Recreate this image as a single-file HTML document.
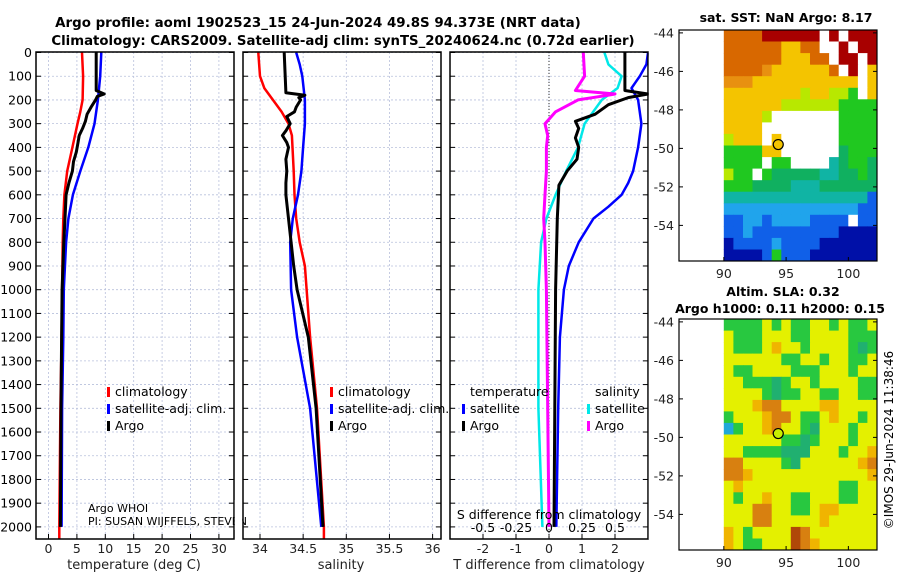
<!DOCTYPE html>
<html><head><meta charset="utf-8"><style>
html,body{margin:0;padding:0;background:#fff;}
svg text{font-family:"DejaVu Sans","Liberation Sans",sans-serif;}
</style></head><body>
<svg id="fig" width="900" height="580" viewBox="0 0 900 580" xmlns="http://www.w3.org/2000/svg">
<text x="318" y="27" font-size="13.4" font-weight="bold" text-anchor="middle">Argo profile: aoml 1902523_15 24-Jun-2024 49.8S 94.373E (NRT data)</text>
<text x="343" y="45" font-size="13.3" font-weight="bold" text-anchor="middle">Climatology: CARS2009. Satellite-adj clim: synTS_20240624.nc (0.72d earlier)</text>
<g id="p1"></g>
<g id="p2"></g>
<g id="p3"></g>
<g id="m1"></g>
<g id="m2"></g>
<text transform="translate(893,440) rotate(-90)" font-size="12" text-anchor="middle">©IMOS 29-Jun-2024 11:38:46</text>
</svg>
<script>
// ---------- data ----------
const depthTicks = [0,100,200,300,400,500,600,700,800,900,1000,1100,1200,1300,1400,1500,1600,1700,1800,1900,2000];
const tTicks = [0,5,10,15,20,25,30];
const sTicks = [34,34.5,35,35.5,36];
const dTTicks = [-2,-1,0,1,2];
const dSTicks = [-0.5,-0.25,0,0.25,0.5];
const dSTickLabels = ["-0.5","-0.25","0","0.25","0.5"];

const tClimDepth = [0,100,200,250,300,400,500,600,700,800,1000,1200,1500,2000,2050];
const tClim = [5.9,6.1,6.0,5.6,5.1,4.2,3.3,2.8,2.6,2.5,2.4,2.3,2.1,1.9,1.9];
const tSatDepth = [0,100,200,300,400,500,600,700,800,1000,1200,1500,2000];
const tSat = [9.3,9.1,8.7,8.1,7.0,5.6,4.3,3.5,3.1,2.7,2.6,2.4,2.3];
const tArgoDepth = [0,160,175,185,200,230,260,290,320,350,380,420,460,500,550,600,700,800,1000,1200,1500,2000];
const tArgo = [8.4,8.4,9.8,8.6,8.3,7.5,6.8,6.5,6.0,5.4,5.2,4.9,4.4,4.2,3.6,3.1,2.9,2.7,2.4,2.3,2.2,2.1];

const sClimDepth = [0,100,150,200,250,300,350,500,600,700,800,900,1200,1500,2000,2050];
const sClim = [33.98,34.00,34.05,34.15,34.25,34.33,34.37,34.39,34.40,34.42,34.46,34.52,34.58,34.66,34.74,34.74];
const sSatDepth = [0,50,100,200,300,400,500,600,700,800,1000,1200,1500,2000];
const sSat = [34.42,34.46,34.49,34.52,34.52,34.50,34.48,34.44,34.38,34.35,34.36,34.43,34.58,34.71];
const sArgoDepth = [0,80,170,180,190,200,230,250,270,300,330,350,380,400,450,500,550,600,700,800,900,1000,1200,1500,2000];
const sArgo = [34.28,34.29,34.30,34.52,34.45,34.47,34.42,34.40,34.31,34.35,34.30,34.26,34.31,34.33,34.30,34.31,34.30,34.30,34.33,34.36,34.39,34.43,34.56,34.65,34.73];

const dTSatDepth = [0,50,100,150,200,300,400,500,550,600,650,700,800,900,1000,1200,1500,2000];
const dTSat = [3.0,2.95,2.75,2.5,2.7,2.8,2.7,2.55,2.4,2.2,1.8,1.35,0.9,0.6,0.45,0.33,0.28,0.22];
const dTArgoDepth = [0,160,175,190,220,260,290,320,360,400,450,500,560,700,1000,2000];
const dTArgo = [2.3,2.3,3.0,2.4,1.8,1.4,0.8,0.9,0.8,0.9,0.85,0.55,0.3,0.25,0.2,0.15];
const dSSatDepth = [0,50,100,150,200,300,400,500,600,700,800,1000,1500,2000];
const dSSat = [0.42,0.45,0.55,0.52,0.40,0.27,0.22,0.13,0.05,-0.02,-0.06,-0.08,-0.08,-0.05];
const dSArgoDepth = [0,100,160,175,180,200,250,300,350,400,500,600,700,800,1000,2000];
const dSArgo = [0.26,0.27,0.20,0.50,0.45,0.22,0.05,-0.03,-0.01,-0.02,-0.02,-0.03,-0.04,-0.03,-0.02,0.0];

const lonTicks = [90,95,100];
const latTicks = [-44,-46,-48,-50,-52,-54];
const sstRows = [
"OOOORRRRRR.R.RRR","OOOOOOYYOO..R.RR","OOOOOOYYYOO.RR.R","OOOOoYYYYYYO.R.Y",
"oooYYYYYYYYYYY.Y","YYYYYYYYLYYLLG.Y","YYYYYYLLLLLLGGGG","YYYYL.......GGGG",
"YYYY........GGGG","LYYY.Y......GGGG","GGGGYY......gGGG","GGGG.GG....TgGGg",
"LGG.GgggggTTggGg","GGGggggTTTgggggg","TTTTTTTTTTTTTTTB","CCCCCCCCCCCCCCBB",
"BBCCBCCCCBBBB.BB","BBCBBBBBBBBBDDDD","DBBBBCBBBBDDDDDD","DDDDBGBBBDDDDDDD"];
const slaRows = [
"GGGGYGYGGYYGYGGY","YGGGYYYGGYYYYGGG","YGGGYoYYGYYYYGgG","YYYYYYGGYYGYYGGY",
"YGGYYYYGGGYYYGYY","YYGGGgGYYGYYYYGG","YYYYGgGGYYGGYYGG","YYYoOOYYYYooYYYY",
"GYYYoOOYGGYoYYGY","CGYYoOYYGgYYYGYY","YYYYYYGGgGYYYGYY","YYGGGGgggYYYGYYo",
"OOYYYYGgYYYYYYoO","OOoYYYYYYYYYYYYo","YoYYYYYYYYYYGGYY","YGYYoYYGGYYYGGYY",
"YYYOOYYGGYooYYYY","YYYOOYYYYYoYYYYY","oYGYYYYROYYYYYYY","oYGGYYYROoYYYYYY"];
const argoLon = 94.37, argoLat = -49.8;

// ---------- helpers ----------
const NS = "http://www.w3.org/2000/svg";
function mk(parent, tag, attrs, txt){ const e=document.createElementNS(NS,tag); for(const k in attrs) e.setAttribute(k,attrs[k]); if(txt!==undefined) e.textContent=txt; parent.appendChild(e); return e; }
const yD = d => 52.5 + d*0.2372;
const PT = 52, PB = 539;
const TICKY = 553, TITLEY = 569;

function panel(g, x0, x1, name){
  depthTicks.forEach(d=>{ const l=mk(g,'line',{x1:x0,x2:x1,y1:yD(d),y2:yD(d),stroke:'#b8c0dc','stroke-width':0.8,'stroke-dasharray':'2,2'});
    
    
    mk(g,'line',{x1:x0,x2:x0+5,y1:yD(d),y2:yD(d),stroke:'#000'}); mk(g,'line',{x1:x1-5,x2:x1,y1:yD(d),y2:yD(d),stroke:'#000'}); });
}
function frame(g,x0,x1,name){ const r=mk(g,'rect',{x:x0,y:PT,width:x1-x0,height:PB-PT,fill:'none',stroke:'#000','stroke-width':1.5});
  
   }
function vgrid(g, xs, name){ xs.forEach(x=>{ const l=mk(g,'line',{x1:x,x2:x,y1:PT,y2:PB,stroke:'#b8c0dc','stroke-width':0.8,'stroke-dasharray':'2,2'});
  
  
  mk(g,'line',{x1:x,x2:x,y1:PB,y2:PB-5,stroke:'#000'}); }); }
function line(g, depths, vals, xf, color, w, name){
  const pts = depths.map((d,i)=>xf(vals[i]).toFixed(1)+','+yD(d).toFixed(1)).join(' ');
  const p=mk(g,'polyline',{points:pts,fill:'none',stroke:color,'stroke-width':w,'stroke-linejoin':'round'});
  
  
}
function legend(g,x,y,color,label,name){
  mk(g,'rect',{x:x,y:y-9,width:3,height:10,fill:color});
  const t=mk(g,'text',{x:x+8,y:y,'font-size':12.5},label);
  
  
}

// ---------- panel 1 ----------
const p1=document.getElementById('p1');
const xT = v => 48.5 + v*5.68;
panel(p1,36,234,'temp'); vgrid(p1,tTicks.map(xT),'temp');
depthTicks.forEach(d=>{ const t=mk(p1,'text',{x:32,y:yD(d)+4.5,'font-size':12.5,'text-anchor':'end'},String(d));
  
   });
tTicks.forEach(v=>{ const t=mk(p1,'text',{x:xT(v),y:TICKY,'font-size':12.5,'text-anchor':'middle',fill:'#222'},String(v));
  
   });
line(p1,tClimDepth,tClim,xT,'#f00',2.5,'temp-climatology-line');
line(p1,tSatDepth,tSat,xT,'#00f',2.5,'temp-satellite-line');
line(p1,tArgoDepth,tArgo,xT,'#000',3,'temp-argo-line');
frame(p1,36,234,'temp');
mk(p1,'text',{x:134,y:TITLEY,'font-size':13,'text-anchor':'middle',fill:'#222'},'temperature (deg C)');
legend(p1,107,396,'#f00','climatology','legend-climatology');
legend(p1,107,413,'#00f','satellite-adj. clim.','legend-satellite-adj');
legend(p1,107,430,'#000','Argo','legend-argo');
mk(p1,'text',{x:88,y:512,'font-size':11},'Argo WHOI');
mk(p1,'text',{x:88,y:525,'font-size':11},'PI: SUSAN WIJFFELS, STEVEN');

// ---------- panel 2 ----------
const p2=document.getElementById('p2');
const xS = v => 260 + (v-34)*86.3;
mk(p2,'rect',{x:234.8,y:500,width:7.5,height:30,fill:'#fff'});
panel(p2,243,441,'sal'); vgrid(p2,sTicks.map(xS),'sal');
sTicks.forEach(v=>{ const t=mk(p2,'text',{x:xS(v),y:TICKY,'font-size':12.5,'text-anchor':'middle',fill:'#222'},String(v));
  
   });
line(p2,sClimDepth,sClim,xS,'#f00',2.5,'sal-climatology-line');
line(p2,sSatDepth,sSat,xS,'#00f',2.5,'sal-satellite-line');
line(p2,sArgoDepth,sArgo,xS,'#000',3,'sal-argo-line');
frame(p2,243,441,'sal');
mk(p2,'text',{x:341,y:TITLEY,'font-size':13,'text-anchor':'middle',fill:'#222'},'salinity');
legend(p2,330,396,'#f00','climatology','legend-climatology-2');
legend(p2,330,413,'#00f','satellite-adj. clim.','legend-satellite-adj-2');
legend(p2,330,430,'#000','Argo','legend-argo-2');

// ---------- panel 3 ----------
const p3=document.getElementById('p3');
const xDT = v => 549 + v*33;
const xDS = v => 549 + v*132;
panel(p3,450,648,'diff'); vgrid(p3,[-3,-2,-1,0,1,2,3].map(xDT).filter(x=>x>450&&x<648),'diff');
mk(p3,'line',{x1:549,x2:549,y1:PT,y2:PB,stroke:'#333','stroke-width':1,'stroke-dasharray':'1,2'});
dTTicks.forEach(v=>{ const t=mk(p3,'text',{x:xDT(v),y:TICKY,'font-size':12.5,'text-anchor':'middle',fill:'#222'},String(v));
  
   });
line(p3,dTSatDepth,dTSat,xDT,'#00f',2.5,'dt-satellite-line');
line(p3,dSSatDepth,dSSat,xDS,'#00e8e8',2.5,'ds-satellite-line');
line(p3,dTArgoDepth,dTArgo,xDT,'#000',3,'dt-argo-line');
line(p3,dSArgoDepth,dSArgo,xDS,'#f0f',3,'ds-argo-line');
frame(p3,450,648,'diff');
mk(p3,'rect',{x:648.8,y:52,width:25,height:487,fill:'#fff'});
dSTicks.forEach((v,i)=>{ const t=mk(p3,'text',{x:xDS(v),y:532,'font-size':12.5,'text-anchor':'middle'},dSTickLabels[i]);
  
   });
mk(p3,'text',{x:549,y:519,'font-size':12.5,'text-anchor':'middle'},'S difference from climatology');
mk(p3,'text',{x:549,y:TITLEY,'font-size':13,'text-anchor':'middle',fill:'#222'},'T difference from climatology');
mk(p3,'text',{x:470,y:396,'font-size':12.5},'temperature');
legend(p3,462,413,'#00f','satellite','legend-dt-satellite');
legend(p3,462,430,'#000','Argo','legend-dt-argo');
mk(p3,'text',{x:595,y:396,'font-size':12.5},'salinity');
legend(p3,587,413,'#00e8e8','satellite','legend-ds-satellite');
legend(p3,587,430,'#f0f','Argo','legend-ds-argo');

// ---------- maps ----------
const sstCol = {R:'#a80000',O:'#d86800',o:'#e89010',Y:'#f4c400',L:'#b8e800',G:'#20c820',g:'#10b060',T:'#10b4a4',C:'#20a4ec',B:'#1060e8',D:'#0010a8','.':'#ffffff'};
const slaCol = {Y:'#e4f000',o:'#f0b400',O:'#d88010',R:'#b04808',G:'#28c840',g:'#20b070',C:'#20a8d8'};
function map(g, top, rows, cols, name){
  const x0=679, x1=877, bot=top+231, lon0=86.4, lon1=102.3, latTop=-43.85, latBot=-55.85;
  const xL = lon => x0 + (lon-lon0)/(lon1-lon0)*(x1-x0);
  const yL = lat => top + (latTop-lat)/(latTop-latBot)*(bot-top);
  const cw=(xL(102.3)-xL(90))/16, ch=(bot-top)/20;
  rows.forEach((r,ri)=>{ for(let ci=0;ci<16;ci++){ const c=mk(g,'rect',{x:(xL(90)+ci*cw).toFixed(1),y:(top+ri*ch).toFixed(1),width:(cw+0.4).toFixed(1),height:(ch+0.4).toFixed(1),fill:cols[r[ci]]});
    
     }});
  const f=mk(g,'rect',{x:x0,y:top,width:x1-x0,height:bot-top,fill:'none',stroke:'#000','stroke-width':1.2});
  
  
  lonTicks.forEach(v=>{ mk(g,'line',{x1:xL(v),x2:xL(v),y1:bot,y2:bot-4,stroke:'#000'});
    const t=mk(g,'text',{x:xL(v),y:bot+17,'font-size':12.5,'text-anchor':'middle',fill:'#222'},String(v));
    
     });
  latTicks.forEach(v=>{ mk(g,'line',{x1:x1,x2:x1-4,y1:yL(v),y2:yL(v),stroke:'#000'}); mk(g,'line',{x1:x0,x2:x0+4,y1:yL(v),y2:yL(v),stroke:'#000'});
    const t=mk(g,'text',{x:x0-5,y:yL(v)+4.5,'font-size':12.5,'text-anchor':'end',fill:'#222'},String(v));
    
     });
  return {xL,yL};
}
const m1=document.getElementById('m1');
const a=map(m1,30,sstRows,sstCol,'sst-map');
const d1=mk(m1,'circle',{cx:a.xL(argoLon),cy:a.yL(argoLat),r:5,fill:'#f4c400',stroke:'#000','stroke-width':1.2});


mk(m1,'text',{x:786,y:22,'font-size':12.5,'font-weight':'bold','text-anchor':'middle'},'sat. SST: NaN Argo: 8.17');
const m2=document.getElementById('m2');
const b=map(m2,319,slaRows,slaCol,'sla-map');
const d2=mk(m2,'circle',{cx:b.xL(argoLon),cy:b.yL(argoLat),r:5,fill:'#c8f000',stroke:'#000','stroke-width':1.2});


mk(m2,'text',{x:783,y:296,'font-size':12.5,'font-weight':'bold','text-anchor':'middle'},'Altim. SLA: 0.32');
mk(m2,'text',{x:780,y:313,'font-size':12.5,'font-weight':'bold','text-anchor':'middle'},'Argo h1000: 0.11 h2000: 0.15');
</script>
</body></html>
